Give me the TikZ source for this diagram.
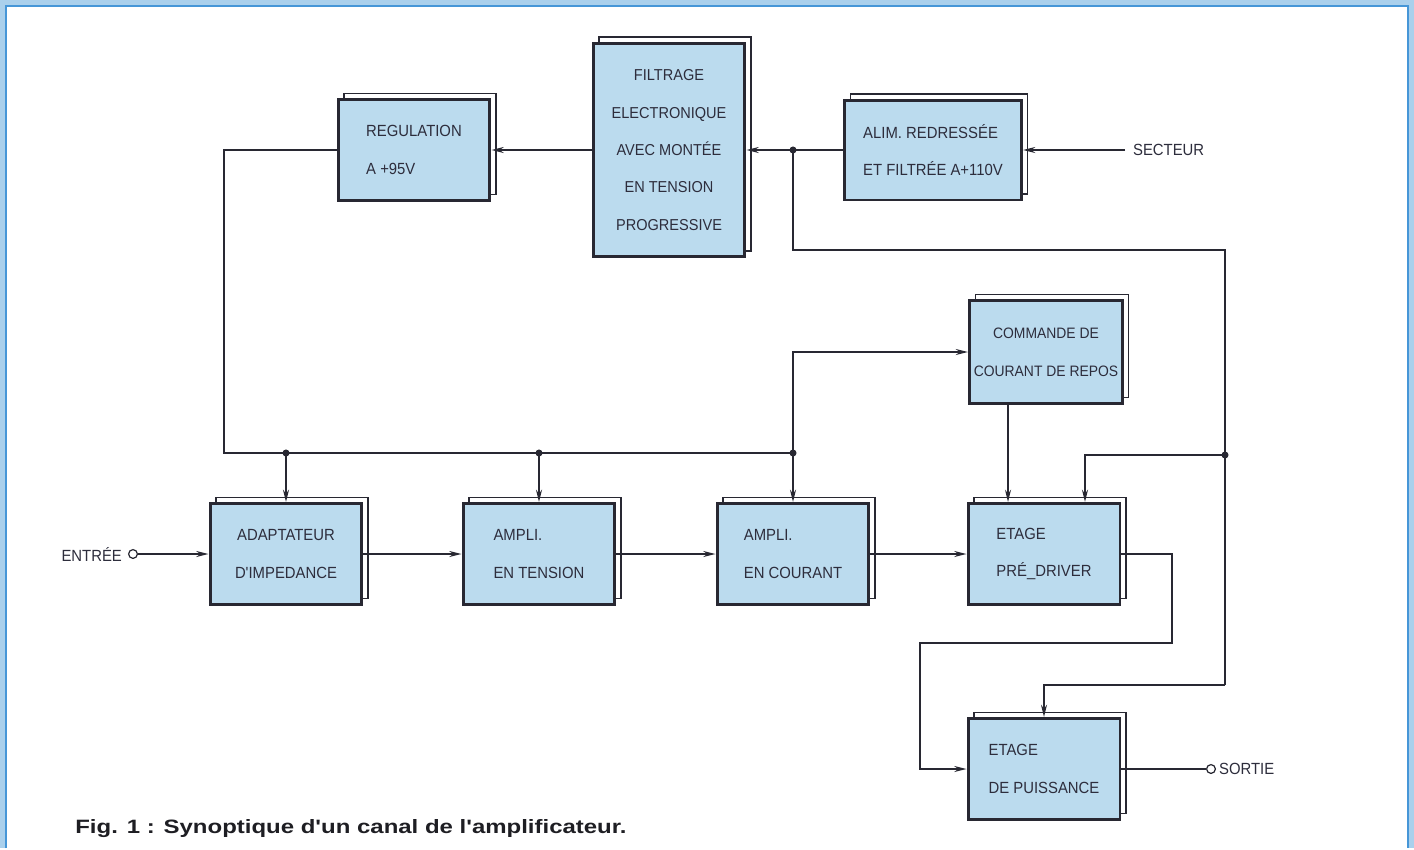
\documentclass[tikz,border=0pt]{standalone}
\usepackage{fontspec}
\setmainfont{Liberation Sans}
\newfontfamily\blocfont[FakeStretch=0.92]{Liberation Sans}
\newfontfamily\legfont[FakeStretch=1.24]{Liberation Sans}
\usetikzlibrary{arrows.meta,shadows}

\definecolor{cadre}{RGB}{70,150,215}
\definecolor{marge}{RGB}{170,208,236}
\definecolor{bleubloc}{RGB}{187,219,238}
\definecolor{trait}{RGB}{40,40,50}
\definecolor{texte}{RGB}{45,45,60}
\definecolor{legende}{RGB}{30,30,35}

\tikzset{
	bloc/.style={draw=trait, line width=1.7pt, fill=bleubloc, minimum width=3.04cm, minimum height=2.02cm,
		inner sep=2pt, align=left, text=texte, font=\blocfont\fontsize{9.2}{21.5}\selectfont,
		copy shadow={shadow xshift=0.12cm, shadow yshift=0.12cm, draw=trait, line width=0.6pt, fill=none}},
	etiq/.style={text=texte, font=\blocfont\fontsize{9.2}{11}\selectfont, inner sep=1pt},
	fil/.style={draw=trait, line width=0.8pt},
	fl/.style={fil, -{Stealth[length=7pt,width=3.4pt]}},
	pt/.style={fill=trait, circle, inner sep=0pt, minimum size=4pt},
	borne/.style={draw=trait, fill=white, circle, inner sep=0pt, minimum size=5pt, line width=0.7pt}
}

\begin{document}
\begin{tikzpicture}[x=0.02cm, y=-0.02cm]
			%%%%% START %%%%%
			
			\fill[marge] (0, 0) rectangle (1414, 848);
			\fill[white] (6, 6) rectangle (1408, 848);
			\draw[cadre, line width=1.5pt] (6, 848) -- (6, 6) -- (1408, 6) -- (1408, 848);
			\useasboundingbox (0, 0) rectangle (1414, 848);
			
			% alimentation
			\node[bloc] (reg) at (414, 150) {REGULATION\\A +95V};
			\node[bloc, align=center, minimum height=4.28cm, font=\blocfont\fontsize{9}{21.3}\selectfont] (filt) at (669, 150) {FILTRAGE\\ELECTRONIQUE\\AVEC MONTÉE\\EN TENSION\\PROGRESSIVE};
			\node[bloc, minimum width=3.54cm, minimum height=2cm] (alim) at (933, 150) {ALIM. REDRESSÉE\\ET FILTRÉE A+110V};
			\node[bloc, align=center, minimum width=3.06cm, minimum height=2.06cm, font=\blocfont\fontsize{8.6}{21.5}\selectfont] (cmd) at (1046, 352) {COMMANDE DE\\COURANT DE REPOS};
			
			% chaine du signal
			\node[bloc, align=center] (adapt) at (286, 554) {ADAPTATEUR\\D'IMPEDANCE};
			\node[bloc] (ampt) at (539, 554) {AMPLI.\\EN TENSION};
			\node[bloc] (ampc) at (793, 554) {AMPLI.\\EN COURANT};
			\node[bloc] (pre) at (1044, 554) {ETAGE\\PRÉ\_DRIVER};
			\node[bloc] (pui) at (1044, 769) {ETAGE\\DE PUISSANCE};
			
			\node[borne] (entree) at (133, 554) {};
			\node[etiq, anchor=east] (lentree) at (124, 554) {ENTRÉE};
			\node[borne] (sortie) at (1211, 769) {};
			\node[etiq, anchor=west] (lsortie) at (1217, 769) {SORTIE};
			\coordinate (secteur) at (1125, 150);
			\node[etiq, anchor=west] (lsecteur) at (1131, 150) {SECTEUR};
			
			\coordinate (bus) at (224, 453);
			\coordinate (ja) at (793, 150);
			\coordinate (c1) at (1225, 250);
			\coordinate (c2) at (1225, 685);
			\coordinate (r1) at (1172, 643);
			\coordinate (r2) at (920, 643);
			
			\node[pt] (pa) at (ja) {};
			\node[pt] (p1) at (adapt.north |- bus) {};
			\node[pt] (p2) at (ampt.north |- bus) {};
			\node[pt] (p3) at (ampc.north |- bus) {};
			\node[pt] (pb) at (1225, 455) {};
			
			\draw[fl] (secteur) -- (alim.east);
			\draw[fl] (alim.west) -- (filt.east);
			\draw[fl] (filt.west) -- (reg.east);
			\draw[fil] (reg.west) -| (bus) -- (p3.center);
			\draw[fl] (p1.center) -- (adapt.north);
			\draw[fl] (p2.center) -- (ampt.north);
			\draw[fl] (p3.center) -- (ampc.north);
			\draw[fl] (p3.center) |- (cmd.west);
			\draw[fl] ([xshift=-0.76cm]cmd.south) -- ([xshift=-0.76cm]cmd.south |- pre.north);
			
			\draw[fil] (pa.center) |- (c1) -- (c2);
			\draw[fl] (c2) -| (pui.north);
			\draw[fl] (pb.center) -| ([xshift=0.82cm]pre.north);
			
			\draw[fl] (entree) -- (adapt.west);
			\draw[fl] (adapt.east) -- (ampt.west);
			\draw[fl] (ampt.east) -- (ampc.west);
			\draw[fl] (ampc.east) -- (pre.west);
			\draw[fl] (pre.east) -| (r1) -- (r2) |- (pui.west);
			\draw[fil] (pui.east) -- (sortie);
			
			\node[anchor=base west, inner sep=0pt, text=legende, font=\legfont\bfseries\fontsize{11}{13}\selectfont] (titre) at (75, 833) {Fig. 1 : Synoptique d'un canal de l'amplificateur.};
			
			%%%%% END %%%%%
\end{tikzpicture}
\end{document}
